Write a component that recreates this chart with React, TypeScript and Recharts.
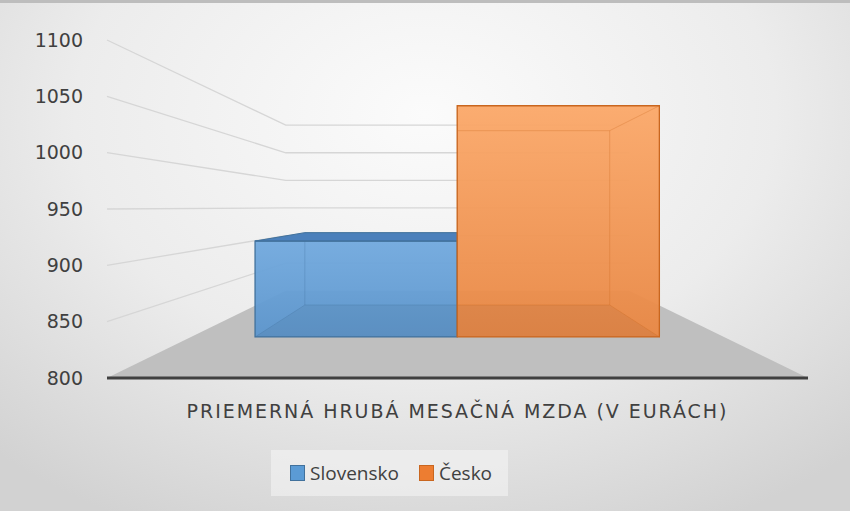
import { BarChart, Bar, XAxis, YAxis, CartesianGrid, Legend } from "recharts";

const categories = ["PRIEMERNÁ HRUBÁ MESAČNÁ MZDA (V EURÁCH)"];
const slovensko = [912];
const cesko = [1070];
const yTicks = [800, 850, 900, 950, 1000, 1050, 1100];

const data = categories.map((c, i) => ({ category: c, slovensko: slovensko[i], cesko: cesko[i] }));

const FONT = "'Open Sans', sans-serif";
const AXIS_FONT = "'DejaVu Sans', sans-serif";
const W = 850;
const H = 511;
const M = { top: 40, right: 42, left: 0, bottom: 15 };
const Y_AXIS_W = 107;
const X_AXIS_H = 72;
const LEGEND_H = 46;

// plot area (front plane)
const PL = M.left + Y_AXIS_W;
const PR = W - M.right;
const PT = M.top;
const PB = H - M.bottom - X_AXIS_H - LEGEND_H;

// one-point perspective: vanishing point + depth factors
const VX = (PL + PR) / 2;
const VY = PB - (PB - PT) * 0.506;
const WALL = 0.49;
const FRONT = 0.76;
const BACK = 0.573;
const proj = (x: number, y: number, s: number) => [VX + (x - VX) * s, VY + (y - VY) * s];
const pts = (arr: number[][]) => arr.map((p) => `${p[0]},${p[1]}`).join(" ");

const blue = { id: "sk", top: "#71a9de", bottom: "#5b95cd", stroke: "#41719c", lid: "#4b80bb" };
const orange = { id: "cz", top: "#fba869", bottom: "#e98743", stroke: "#c9661f", lid: "#f59a55" };

const Box3D = (props: any) => {
  const { x, y, width, height, c } = props;
  if (!height) return null;
  const x0 = x, x1 = x + width, yt = y, yb = y + height;
  const ftl = proj(x0, yt, FRONT), ftr = proj(x1, yt, FRONT);
  const fbl = proj(x0, yb, FRONT), fbr = proj(x1, yb, FRONT);
  const btl = proj(x0, yt, BACK), btr = proj(x1, yt, BACK);
  const bbl = proj(x0, yb, BACK), bbr = proj(x1, yb, BACK);
  const lidVisible = ftl[1] > VY;
  return (
    <g>
      <defs>
        <linearGradient id={`grad-${c.id}`} x1="0" y1="0" x2="0" y2="1">
          <stop offset="0%" stopColor={c.top} />
          <stop offset="100%" stopColor={c.bottom} />
        </linearGradient>
      </defs>
      <polygon points={pts([ftl, ftr, fbr, fbl])} fill={`url(#grad-${c.id})`} fillOpacity={0.95} />
      {/* bottom face seen through */}
      <polygon points={pts([fbl, fbr, bbr, bbl])} fill="#000" fillOpacity={0.05} />
      {/* hidden edges */}
      <g stroke={c.stroke} strokeOpacity={0.3} strokeWidth={1} fill="none">
        <polygon points={pts([btl, btr, bbr, bbl])} />
        <line x1={ftl[0]} y1={ftl[1]} x2={btl[0]} y2={btl[1]} />
        <line x1={ftr[0]} y1={ftr[1]} x2={btr[0]} y2={btr[1]} />
        <line x1={fbl[0]} y1={fbl[1]} x2={bbl[0]} y2={bbl[1]} />
        <line x1={fbr[0]} y1={fbr[1]} x2={bbr[0]} y2={bbr[1]} />
      </g>
      {lidVisible && (
        <polygon points={pts([btl, btr, ftr, ftl])} fill={c.lid} stroke={c.stroke} strokeWidth={1} />
      )}
      <polygon points={pts([ftl, ftr, fbr, fbl])} fill="none" stroke={c.stroke} strokeWidth={1.3} />
    </g>
  );
};

const wallLine = (p: any) => {
  const y = p.y1;
  const l = p.x1;
  const r = p.x2;
  const b = proj(l, y, WALL);
  const br = proj(r, y, WALL);
  const isBase = Math.abs(y - PB) < 1;
  return (
    <g key={`wall-${p.index}`}>
      {isBase && (
        <polygon points={pts([[l, y], [r, y], proj(r, y, WALL), proj(l, y, WALL)])} fill="#bfbfbf" />
      )}
      {!isBase && (
        <polyline points={pts([[l, y], b, br])} fill="none" stroke="#d6d6d6" strokeWidth={1.3} />
      )}
    </g>
  );
};

const renderLegend = (props: any) => {
  const items = props.payload || [];
  return (
    <div
      style={{
        display: "flex",
        alignItems: "center",
        gap: 20,
        paddingLeft: 19,
        width: 237,
        height: LEGEND_H,
        boxSizing: "border-box",
        background: "rgba(245,245,245,0.55)",
        fontFamily: FONT,
        fontSize: 19,
        color: "#404040",
      }}
    >
      {items.map((it: any) => (
        <span key={it.value} style={{ display: "flex", alignItems: "center" }}>
          <span
            style={{
              width: 13,
              height: 14,
              background: it.color,
              border: `1px solid ${it.payload.stroke}`,
              marginRight: 5,
            }}
          />
          {it.value}
        </span>
      ))}
    </div>
  );
};

export default function App() {
  return (
    <div
      style={{
        width: W,
        height: H,
        position: "relative",
        boxSizing: "border-box",
        borderTop: "3px solid #bdbdbd",
        background: "radial-gradient(ellipse 75% 90% at 50% 22%, #fbfbfb 0%, #ececec 55%, #d2d2d2 100%)",
      }}
    >
      <style>{"body{margin:0}"}</style>
      <div style={{ position: "absolute", top: -3, left: 0 }}>
        <BarChart width={W} height={H} data={data} margin={M} barCategoryGap="12%" barGap={0}>
          <CartesianGrid vertical={false} horizontal={wallLine} />
          <YAxis
            type="number"
            domain={[800, 1100]}
            ticks={yTicks}
            width={Y_AXIS_W}
            axisLine={false}
            tickLine={false}
            tickSize={0}
            tickMargin={24}
            tick={{ fontSize: 19, fill: "#404040", fontFamily: AXIS_FONT }}
            allowDataOverflow
          />
          <XAxis
            dataKey="category"
            height={X_AXIS_H}
            axisLine={{ stroke: "#404040", strokeWidth: 3 }}
            tickLine={false}
            tickSize={0}
            tickMargin={27}
            tick={{ fontSize: 19, fill: "#404040", fontFamily: AXIS_FONT, letterSpacing: 1.95 }}
          />
          <Legend
            verticalAlign="bottom"
            height={LEGEND_H}
            content={renderLegend}
            wrapperStyle={{ left: 271, width: 237 }}
          />
          <Bar
            dataKey="slovensko"
            name="Slovensko"
            fill="#5b9bd5"
            stroke={blue.stroke}
            isAnimationActive={false}
            shape={(p: any) => <Box3D {...p} c={blue} />}
          />
          <Bar
            dataKey="cesko"
            name="Česko"
            fill="#ed7d31"
            stroke={orange.stroke}
            isAnimationActive={false}
            shape={(p: any) => <Box3D {...p} c={orange} />}
          />
        </BarChart>
      </div>
    </div>
  );
}
